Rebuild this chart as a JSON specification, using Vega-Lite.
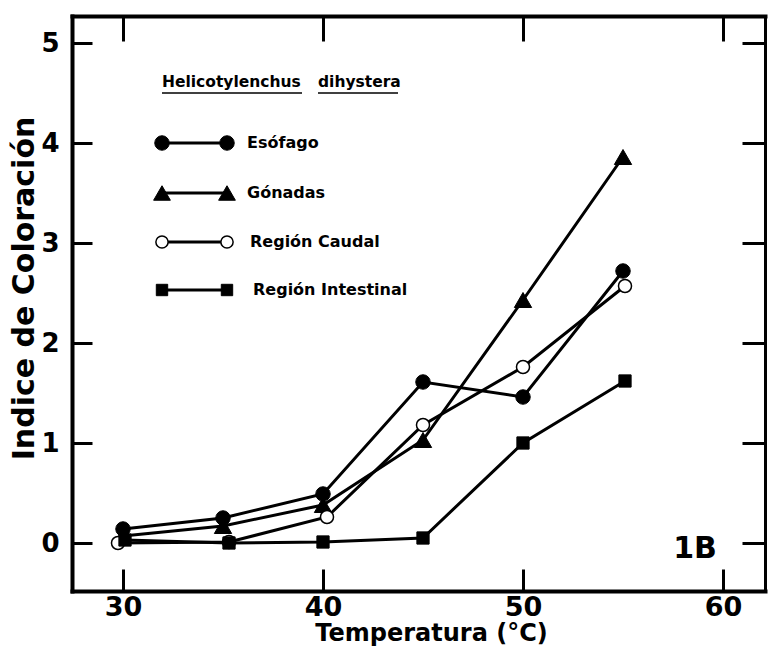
{
  "$schema": "https://vega.github.io/schema/vega-lite/v6.json",
  "width": 693,
  "height": 575,
  "autosize": {"type": "none"},
  "padding": {"left": 72, "top": 16, "right": 3, "bottom": 73},
  "background": "white",
  "config": {
    "view": {"stroke": null},
    "font": "DejaVu Sans",
    "axis": {"grid": false, "domainColor": "black", "tickColor": "black", "labelColor": "black", "titleColor": "black", "domainCap": "square"}
  },
  "resolve": {"axis": {"x": "independent", "y": "independent"}},
  "layer": [
    {
      "data": {"values": [
        {"series": "Esófago", "t": 30, "v": 0.14},
        {"series": "Esófago", "t": 35, "v": 0.25},
        {"series": "Esófago", "t": 40, "v": 0.49},
        {"series": "Esófago", "t": 45, "v": 1.61},
        {"series": "Esófago", "t": 50, "v": 1.46},
        {"series": "Esófago", "t": 55, "v": 2.72},
        {"series": "Gónadas", "t": 30, "v": 0.07},
        {"series": "Gónadas", "t": 35, "v": 0.17},
        {"series": "Gónadas", "t": 40, "v": 0.38},
        {"series": "Gónadas", "t": 45, "v": 1.03},
        {"series": "Gónadas", "t": 50, "v": 2.43},
        {"series": "Gónadas", "t": 55, "v": 3.86},
        {"series": "Región Caudal", "t": 29.75, "v": 0.0},
        {"series": "Región Caudal", "t": 35.3, "v": 0.01},
        {"series": "Región Caudal", "t": 40.2, "v": 0.26},
        {"series": "Región Caudal", "t": 45, "v": 1.18},
        {"series": "Región Caudal", "t": 50, "v": 1.76},
        {"series": "Región Caudal", "t": 55.1, "v": 2.57},
        {"series": "Región Intestinal", "t": 30.1, "v": 0.03},
        {"series": "Región Intestinal", "t": 35.3, "v": 0.0},
        {"series": "Región Intestinal", "t": 40, "v": 0.01},
        {"series": "Región Intestinal", "t": 45, "v": 0.05},
        {"series": "Región Intestinal", "t": 50, "v": 1.0},
        {"series": "Región Intestinal", "t": 55.1, "v": 1.62}
      ]},
      "layer": [
        {
          "mark": {"type": "line", "stroke": "black", "strokeWidth": 3},
          "encoding": {
            "x": {"field": "t", "type": "quantitative", "scale": {"domain": [27.45, 62.1], "nice": false, "zero": false},
              "axis": {"orient": "bottom", "values": [30, 40, 50, 60], "tickSize": -22, "tickWidth": 3, "domainWidth": 4,
                "labelFont": "DejaVu Sans", "labelFontWeight": "bold", "labelFontSize": 27, "labelPadding": 25,
                "title": "Temperatura (°C)", "titleFont": "DejaVu Sans", "titleFontWeight": "bold", "titleFontSize": 24,
                "titleX": 359, "titleY": 49, "titleBaseline": "alphabetic", "titleAlign": "center"}},
            "y": {"field": "v", "type": "quantitative", "scale": {"domain": [-0.48, 5.27], "nice": false, "zero": false},
              "axis": {"orient": "left", "values": [0, 1, 2, 3, 4, 5], "tickSize": -20, "tickWidth": 3, "domainWidth": 4,
                "labelFont": "DejaVu Sans", "labelFontWeight": "bold", "labelFontSize": 26, "labelPadding": 33,
                "title": "Indice de Coloración", "titleFont": "DejaVu Sans", "titleFontWeight": "bold", "titleFontSize": 30,
                "titleAngle": -90, "titleX": -39, "titleY": 272, "titleBaseline": "alphabetic", "titleAlign": "center"}},
            "detail": {"field": "series"}
          }
        },
        {
          "transform": [{"filter": "datum.series === 'Esófago'"}],
          "mark": {"type": "point", "shape": "circle", "filled": true, "fill": "black", "stroke": "black", "strokeWidth": 1, "size": 210, "opacity": 1},
          "encoding": {
            "x": {"field": "t", "type": "quantitative", "scale": {"domain": [27.45, 62.1], "nice": false, "zero": false},
              "axis": {"orient": "top", "values": [30, 40, 50, 60], "labels": false, "title": null, "tickSize": -25, "tickWidth": 3, "domainWidth": 4}},
            "y": {"field": "v", "type": "quantitative", "scale": {"domain": [-0.48, 5.27], "nice": false, "zero": false},
              "axis": {"orient": "right", "values": [0, 1, 2, 3, 4, 5], "labels": false, "title": null, "tickSize": -23, "tickWidth": 3, "domainWidth": 3}}
          }
        },
        {
          "transform": [{"filter": "datum.series === 'Gónadas'"}],
          "mark": {"type": "point", "shape": "triangle-up", "filled": true, "fill": "black", "stroke": "black", "strokeWidth": 1, "size": 300, "opacity": 1},
          "encoding": {
            "x": {"field": "t", "type": "quantitative", "scale": {"domain": [27.45, 62.1], "nice": false, "zero": false}, "axis": null},
            "y": {"field": "v", "type": "quantitative", "scale": {"domain": [-0.48, 5.27], "nice": false, "zero": false}, "axis": null}
          }
        },
        {
          "transform": [{"filter": "datum.series === 'Región Caudal'"}],
          "mark": {"type": "point", "shape": "circle", "filled": true, "fill": "white", "stroke": "black", "strokeWidth": 1.5, "size": 170, "opacity": 1},
          "encoding": {
            "x": {"field": "t", "type": "quantitative", "scale": {"domain": [27.45, 62.1], "nice": false, "zero": false}, "axis": null},
            "y": {"field": "v", "type": "quantitative", "scale": {"domain": [-0.48, 5.27], "nice": false, "zero": false}, "axis": null}
          }
        },
        {
          "transform": [{"filter": "datum.series === 'Región Intestinal'"}],
          "mark": {"type": "point", "shape": "square", "filled": true, "fill": "black", "stroke": "black", "strokeWidth": 1, "size": 150, "opacity": 1},
          "encoding": {
            "x": {"field": "t", "type": "quantitative", "scale": {"domain": [27.45, 62.1], "nice": false, "zero": false}, "axis": null},
            "y": {"field": "v", "type": "quantitative", "scale": {"domain": [-0.48, 5.27], "nice": false, "zero": false}, "axis": null}
          }
        }
      ]
    },
    {
      "data": {"values": [
        {"series": "Esófago", "t": 31.95, "v": 4.0},
        {"series": "Esófago", "t": 35.2, "v": 4.0},
        {"series": "Gónadas", "t": 31.95, "v": 3.5},
        {"series": "Gónadas", "t": 35.2, "v": 3.5},
        {"series": "Región Caudal", "t": 31.95, "v": 3.01},
        {"series": "Región Caudal", "t": 35.2, "v": 3.01},
        {"series": "Región Intestinal", "t": 31.95, "v": 2.53},
        {"series": "Región Intestinal", "t": 35.2, "v": 2.53}
      ]},
      "layer": [
        {
          "mark": {"type": "line", "stroke": "black", "strokeWidth": 3},
          "encoding": {
            "x": {"field": "t", "type": "quantitative", "scale": {"domain": [27.45, 62.1], "nice": false, "zero": false}, "axis": null},
            "y": {"field": "v", "type": "quantitative", "scale": {"domain": [-0.48, 5.27], "nice": false, "zero": false}, "axis": null},
            "detail": {"field": "series"}
          }
        },
        {
          "transform": [{"filter": "datum.series === 'Esófago'"}],
          "mark": {"type": "point", "shape": "circle", "filled": true, "fill": "black", "stroke": "black", "strokeWidth": 1, "size": 210, "opacity": 1},
          "encoding": {
            "x": {"field": "t", "type": "quantitative", "scale": {"domain": [27.45, 62.1], "nice": false, "zero": false}, "axis": null},
            "y": {"field": "v", "type": "quantitative", "scale": {"domain": [-0.48, 5.27], "nice": false, "zero": false}, "axis": null}
          }
        },
        {
          "transform": [{"filter": "datum.series === 'Gónadas'"}],
          "mark": {"type": "point", "shape": "triangle-up", "filled": true, "fill": "black", "stroke": "black", "strokeWidth": 1, "size": 280, "opacity": 1},
          "encoding": {
            "x": {"field": "t", "type": "quantitative", "scale": {"domain": [27.45, 62.1], "nice": false, "zero": false}, "axis": null},
            "y": {"field": "v", "type": "quantitative", "scale": {"domain": [-0.48, 5.27], "nice": false, "zero": false}, "axis": null}
          }
        },
        {
          "transform": [{"filter": "datum.series === 'Región Caudal'"}],
          "mark": {"type": "point", "shape": "circle", "filled": true, "fill": "white", "stroke": "black", "strokeWidth": 1.5, "size": 150, "opacity": 1},
          "encoding": {
            "x": {"field": "t", "type": "quantitative", "scale": {"domain": [27.45, 62.1], "nice": false, "zero": false}, "axis": null},
            "y": {"field": "v", "type": "quantitative", "scale": {"domain": [-0.48, 5.27], "nice": false, "zero": false}, "axis": null}
          }
        },
        {
          "transform": [{"filter": "datum.series === 'Región Intestinal'"}],
          "mark": {"type": "point", "shape": "square", "filled": true, "fill": "black", "stroke": "black", "strokeWidth": 1, "size": 130, "opacity": 1},
          "encoding": {
            "x": {"field": "t", "type": "quantitative", "scale": {"domain": [27.45, 62.1], "nice": false, "zero": false}, "axis": null},
            "y": {"field": "v", "type": "quantitative", "scale": {"domain": [-0.48, 5.27], "nice": false, "zero": false}, "axis": null}
          }
        }
      ]
    },
    {
      "data": {"values": [
        {"label": "Esófago", "t": 36.2, "v": 4.0},
        {"label": "Gónadas", "t": 36.2, "v": 3.5},
        {"label": "Región  Caudal", "t": 36.35, "v": 3.01},
        {"label": "Región  Intestinal", "t": 36.5, "v": 2.53}
      ]},
      "mark": {"type": "text", "align": "left", "baseline": "middle", "font": "DejaVu Sans", "fontWeight": "bold", "fontSize": 16, "color": "black"},
      "encoding": {
        "x": {"field": "t", "type": "quantitative", "scale": {"domain": [27.45, 62.1], "nice": false, "zero": false}, "axis": null},
        "y": {"field": "v", "type": "quantitative", "scale": {"domain": [-0.48, 5.27], "nice": false, "zero": false}, "axis": null},
        "text": {"field": "label"}
      }
    },
    {
      "data": {"values": [
        {"label": "Helicotylenchus", "t": 31.95, "v": 4.56},
        {"label": "dihystera", "t": 39.75, "v": 4.56}
      ]},
      "mark": {"type": "text", "align": "left", "baseline": "alphabetic", "font": "DejaVu Sans", "fontWeight": "bold", "fontSize": 15.5, "color": "black"},
      "encoding": {
        "x": {"field": "t", "type": "quantitative", "scale": {"domain": [27.45, 62.1], "nice": false, "zero": false}, "axis": null},
        "y": {"field": "v", "type": "quantitative", "scale": {"domain": [-0.48, 5.27], "nice": false, "zero": false}, "axis": null},
        "text": {"field": "label"}
      }
    },
    {
      "data": {"values": [
        {"t": 31.95, "t2": 38.95, "v": 4.5},
        {"t": 39.75, "t2": 43.75, "v": 4.5}
      ]},
      "mark": {"type": "rule", "stroke": "black", "strokeWidth": 1.5},
      "encoding": {
        "x": {"field": "t", "type": "quantitative", "scale": {"domain": [27.45, 62.1], "nice": false, "zero": false}, "axis": null},
        "x2": {"field": "t2"},
        "y": {"field": "v", "type": "quantitative", "scale": {"domain": [-0.48, 5.27], "nice": false, "zero": false}, "axis": null}
      }
    },
    {
      "data": {"values": [
        {"label": "1B", "t": 58.6, "v": -0.15}
      ]},
      "mark": {"type": "text", "align": "center", "baseline": "alphabetic", "font": "DejaVu Sans", "fontWeight": "bold", "fontSize": 30, "color": "black"},
      "encoding": {
        "x": {"field": "t", "type": "quantitative", "scale": {"domain": [27.45, 62.1], "nice": false, "zero": false}, "axis": null},
        "y": {"field": "v", "type": "quantitative", "scale": {"domain": [-0.48, 5.27], "nice": false, "zero": false}, "axis": null},
        "text": {"field": "label"}
      }
    }
  ]
}
